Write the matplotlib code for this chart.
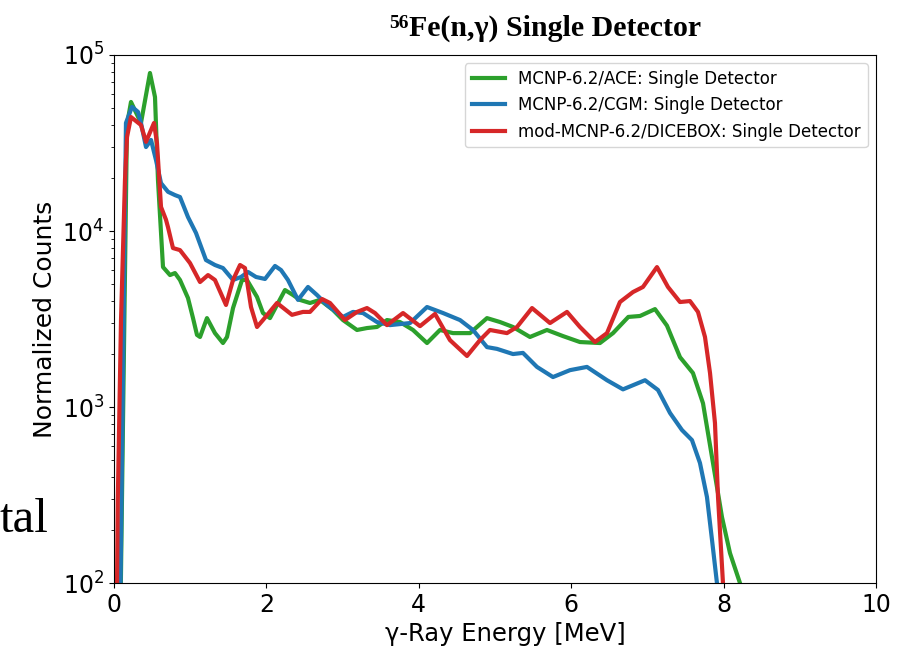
import matplotlib.pyplot as plt
import numpy as np

e_ace = [0.09, 0.17, 0.223, 0.354, 0.472, 0.538, 0.577, 0.643, 0.735, 0.80, 0.866, 0.971,
         1.037, 1.089, 1.129, 1.22, 1.325, 1.43, 1.483, 1.562, 1.68, 1.745, 1.877, 1.955,
         2.047, 2.139, 2.244, 2.349, 2.441, 2.572, 2.703, 2.874, 3.005, 3.189, 3.32, 3.451,
         3.583, 3.753, 3.924, 4.108, 4.278, 4.449, 4.672, 4.895, 5.066, 5.236, 5.459, 5.682,
         5.892, 6.115, 6.378, 6.549, 6.75, 6.903, 7.10, 7.257, 7.428, 7.598, 7.73, 7.861,
         7.979, 8.084, 8.215, 8.30]
c_ace = [100, 40000, 54100, 41100, 79000, 57700, 19500, 6240, 5620, 5770, 5270, 4160,
         3200, 2570, 2500, 3200, 2630, 2310, 2500, 3650, 5270, 5270, 4220, 3420,
         3200, 3800, 4620, 4330, 4060, 3900, 4060, 3560, 3120, 2740, 2810, 2850,
         3120, 3040, 2740, 2310, 2740, 2630, 2630, 3200, 3040, 2850, 2500, 2740,
         2530, 2340, 2310, 2630, 3250, 3290, 3600, 2900, 1920, 1560, 1050, 481,
         237, 148, 100, 70]

e_cgm = [0.08, 0.157, 0.236, 0.315, 0.354, 0.42, 0.486, 0.551, 0.617, 0.709, 0.80, 0.866,
         0.971, 1.076, 1.207, 1.325, 1.43, 1.562, 1.667, 1.759, 1.864, 1.982, 2.113, 2.192,
         2.283, 2.415, 2.546, 2.664, 2.795, 3.005, 3.136, 3.268, 3.451, 3.622, 3.885, 4.108,
         4.318, 4.541, 4.711, 4.895, 5.026, 5.236, 5.367, 5.551, 5.761, 5.984, 6.207, 6.47,
         6.68, 6.969, 7.139, 7.297, 7.454, 7.585, 7.69, 7.782, 7.848, 7.913, 7.95]
c_cgm = [60, 41100, 50700, 47500, 41100, 30000, 32900, 25300, 18700, 16700, 16000, 15600,
         12000, 9750, 6840, 6410, 6160, 5270, 5480, 5850, 5480, 5340, 6330, 6000,
         5270, 4060, 4810, 4330, 3800, 3250, 3470, 3420, 3040, 2920, 3000, 3700,
         3420, 3120, 2740, 2190, 2140, 2000, 2030, 1690, 1480, 1620, 1690, 1420,
         1260, 1420, 1250, 925, 740, 649, 481, 308, 176, 100, 70]

e_dice = [0.035, 0.05, 0.092, 0.144, 0.171, 0.223, 0.354, 0.42, 0.525, 0.564, 0.617, 0.682,
          0.709, 0.774, 0.866, 0.997, 1.129, 1.234, 1.325, 1.47, 1.562, 1.654, 1.719, 1.798,
          1.877, 1.955, 2.139, 2.336, 2.48, 2.572, 2.73, 2.835, 3.031, 3.189, 3.32, 3.425,
          3.583, 3.793, 4.016, 4.213, 4.409, 4.633, 4.803, 4.934, 5.157, 5.289, 5.486, 5.722,
          5.945, 6.115, 6.312, 6.47, 6.64, 6.811, 6.942, 7.126, 7.27, 7.428, 7.559, 7.664,
          7.756, 7.822, 7.887, 7.927, 7.992, 8.02]
c_dice = [60, 300, 3120, 19500, 34200, 44400, 40000, 32100, 41100, 31600, 13700, 11600,
          10500, 8000, 7790, 6580, 5130, 5620, 5270, 3800, 5270, 6410, 6160, 3700,
          2850, 3120, 3900, 3340, 3470, 3470, 4110, 3900, 3120, 3470, 3650, 3420,
          2920, 3420, 2880, 3380, 2400, 1950, 2400, 2740, 2630, 2850, 3650, 3000,
          3470, 2850, 2340, 2630, 3950, 4500, 4810, 6240, 4810, 3950, 4000, 3470,
          2500, 1560, 811, 308, 100, 70]

labels = ['MCNP-6.2/ACE: Single Detector',
          'MCNP-6.2/CGM: Single Detector',
          'mod-MCNP-6.2/DICEBOX: Single Detector']

fig = plt.figure(figsize=(9.12, 6.5), dpi=100)
ax = fig.add_axes([0.125, 0.103, 0.8355, 0.8124])

ax.plot(e_ace, c_ace, color='tab:green', lw=3, solid_joinstyle='round', label=labels[0])
ax.plot(e_cgm, c_cgm, color='tab:blue', lw=3, solid_joinstyle='round', label=labels[1])
ax.plot(e_dice, c_dice, color='tab:red', lw=3, solid_joinstyle='round', label=labels[2])

ax.set_yscale('log')
ax.set_xlim(0, 10)
ax.set_ylim(1e2, 1e5)
ax.set_xticks([0, 2, 4, 6, 8, 10])
ax.tick_params(labelsize=17)
ax.set_xlabel('γ-Ray Energy [MeV]', fontsize=17.5, x=0.513)
ax.set_ylabel('Normalized Counts', fontsize=18)
ax.legend(loc='upper right', fontsize=12)

# slide title (superscript mass number placed in front)
title = fig.text(0.448, 0.956, 'Fe(n,γ) Single Detector', family='Liberation Serif',
                 fontweight='bold', fontsize=21.5, ha='left', va='center')
ax.annotate('56', xy=(0, 1), xycoords=title, ha='right', va='top',
            family='Liberation Serif', fontweight='bold', fontsize=14,
            annotation_clip=False)

# leftover text fragment from the slide
fig.text(0.0, 1 - 532 / 650, 'tal', family='Liberation Serif', fontsize=35,
         ha='left', va='baseline')

fig.savefig('out.png', dpi=100)
